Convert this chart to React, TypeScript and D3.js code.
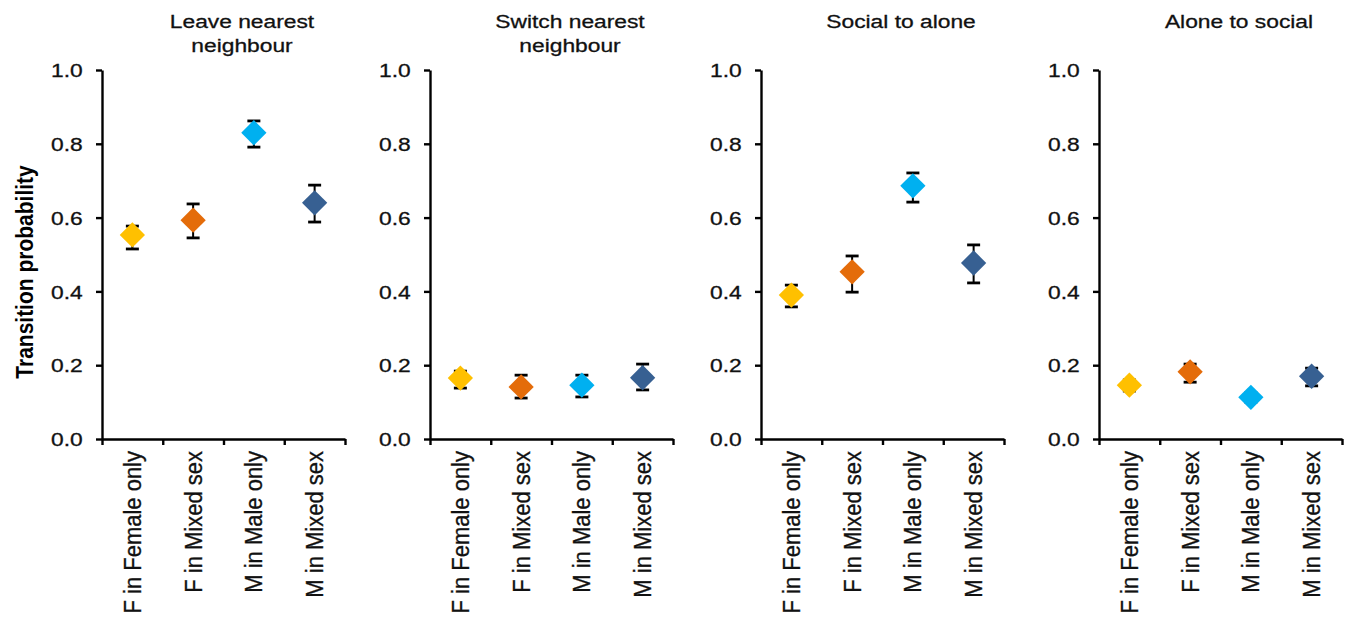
import React, { useEffect, useRef } from "react";
import * as d3 from "d3";

// groups on the x axis
const categories = ["F in Female only", "F in Mixed sex", "M in Male only", "M in Mixed sex"];
const colors = ["#FFC000", "#E46C0A", "#00B0F0", "#376092"];
const yTicks = [0, 0.2, 0.4, 0.6, 0.8, 1.0];

// panel titles (one line each entry)
const leaveTitle = ["Leave nearest", "neighbour"];
const switchTitle = ["Switch nearest", "neighbour"];
const socialTitle = ["Social to alone"];
const aloneTitle = ["Alone to social"];

// transition probabilities, with the ends of the error bars
const leaveMean = [0.553, 0.593, 0.83, 0.64];
const leaveLow = [0.515, 0.545, 0.791, 0.588];
const leaveHigh = [0.577, 0.637, 0.862, 0.688];

const switchMean = [0.165, 0.141, 0.146, 0.166];
const switchLow = [0.138, 0.111, 0.114, 0.133];
const switchHigh = [0.184, 0.173, 0.173, 0.203];

const socialMean = [0.39, 0.453, 0.686, 0.477];
const socialLow = [0.358, 0.398, 0.642, 0.423];
const socialHigh = [0.417, 0.496, 0.721, 0.526];

const aloneMean = [0.146, 0.182, 0.113, 0.17];
const aloneLow = [0.13, 0.154, 0.1, 0.144];
const aloneHigh = [0.16, 0.203, 0.125, 0.192];

const panels = [
  { title: leaveTitle, mean: leaveMean, low: leaveLow, high: leaveHigh },
  { title: switchTitle, mean: switchMean, low: switchLow, high: switchHigh },
  { title: socialTitle, mean: socialMean, low: socialLow, high: socialHigh },
  { title: aloneTitle, mean: aloneMean, low: aloneLow, high: aloneHigh },
];

const FONT = "'Liberation Sans', Arial, Helvetica, sans-serif";

function App() {
  const ref = useRef<SVGSVGElement>(null);

  useEffect(() => {
    const svg = d3.select(ref.current);
    svg.selectAll("*").remove();

    const panelLefts = [102, 430, 761, 1099];
    const axisWidth = 243;
    const yscale = d3.scaleLinear().domain([0, 1]).range([439, 70]);

    // shared y label
    svg.append("text")
      .attr("transform", "translate(25,272) rotate(-90) scale(1,1.1)")
      .attr("text-anchor", "middle")
      .attr("dominant-baseline", "central")
      .style("font-family", FONT)
      .style("font-size", "21px")
      .style("font-weight", "bold")
      .text("Transition probability");

    panels.forEach((p, i) => {
      const left = panelLefts[i];
      const g = svg.append("g");

      const xband = d3.scaleBand().domain(categories).range([left, left + axisWidth]);
      const xedge = d3.scaleLinear().domain([0, categories.length]).range([left, left + axisWidth]);

      // y axis
      const yaxis = d3.axisLeft(yscale)
        .tickValues(yTicks)
        .tickFormat(d3.format(".1f"))
        .tickSize(6)
        .tickSizeOuter(0);
      const gy = g.append("g").attr("transform", `translate(${left},0)`).call(yaxis);
      gy.selectAll("path, line").attr("stroke", "#000").attr("stroke-width", 2.4);
      gy.selectAll("text")
        .attr("x", -16)
        .attr("dy", "0.35em")
        .attr("transform", "scale(1.2,1)")
        .attr("fill", "#111")
        .attr("stroke", "#111")
        .attr("stroke-width", 0.3)
        .style("font-family", FONT)
        .style("font-size", "19px");

      // x axis, ticks between groups
      const xaxis = d3.axisBottom(xedge)
        .tickValues(d3.range(categories.length + 1))
        .tickFormat(() => "")
        .tickSize(6)
        .tickSizeOuter(0);
      const gx = g.append("g").attr("transform", `translate(0,${yscale(0)})`).call(xaxis);
      gx.selectAll("path, line").attr("stroke", "#000").attr("stroke-width", 2.4);

      // category labels
      g.selectAll(".cat")
        .data(categories)
        .join("text")
        .attr("class", "cat")
        .attr("transform", (d) => `translate(${xband(d)! + xband.bandwidth() / 2},451) rotate(-90) scale(1,1.12)`)
        .attr("text-anchor", "end")
        .attr("dominant-baseline", "central")
        .attr("fill", "#111")
        .attr("stroke", "#111")
        .attr("stroke-width", 0.3)
        .style("font-family", FONT)
        .style("font-size", "22px")
        .text((d) => d);

      // title
      p.title.forEach((line, k) => {
        g.append("text")
          .attr("transform", `translate(${left + 140},${28 + k * 24}) scale(1.2,1)`)
          .attr("text-anchor", "middle")
          .attr("fill", "#111")
          .attr("stroke", "#111")
          .attr("stroke-width", 0.3)
          .style("font-family", FONT)
          .style("font-size", "19px")
          .text(line);
      });

      const rows = categories.map((c, j) => ({
        c, mean: p.mean[j], low: p.low[j], high: p.high[j], color: colors[j],
      }));
      const cx = (d: any) => xband(d.c)! + xband.bandwidth() / 2;

      // error bars
      const eb = g.selectAll(".err").data(rows).join("g").attr("class", "err")
        .attr("stroke", "#000").attr("stroke-width", 2);
      eb.append("line")
        .attr("x1", cx).attr("x2", cx)
        .attr("y1", (d) => yscale(d.high)).attr("y2", (d) => yscale(d.low));
      eb.append("line")
        .attr("x1", (d) => cx(d) - 6.5).attr("x2", (d) => cx(d) + 6.5)
        .attr("y1", (d) => yscale(d.high)).attr("y2", (d) => yscale(d.high))
        .attr("stroke-width", 2.8);
      eb.append("line")
        .attr("x1", (d) => cx(d) - 6.5).attr("x2", (d) => cx(d) + 6.5)
        .attr("y1", (d) => yscale(d.low)).attr("y2", (d) => yscale(d.low))
        .attr("stroke-width", 2.8);

      // diamonds
      const diamond = d3.symbol().type(d3.symbolSquare).size(320);
      g.selectAll(".pt").data(rows).join("path")
        .attr("class", "pt")
        .attr("d", diamond as any)
        .attr("transform", (d) => `translate(${cx(d)},${yscale(d.mean)}) rotate(45)`)
        .attr("fill", (d) => d.color);
    });
  }, []);

  return (
    <svg
      ref={ref}
      width={1346}
      height={623}
      style={{ position: "absolute", left: 0, top: 0, background: "#fff" }}
    />
  );
}

export default App;
